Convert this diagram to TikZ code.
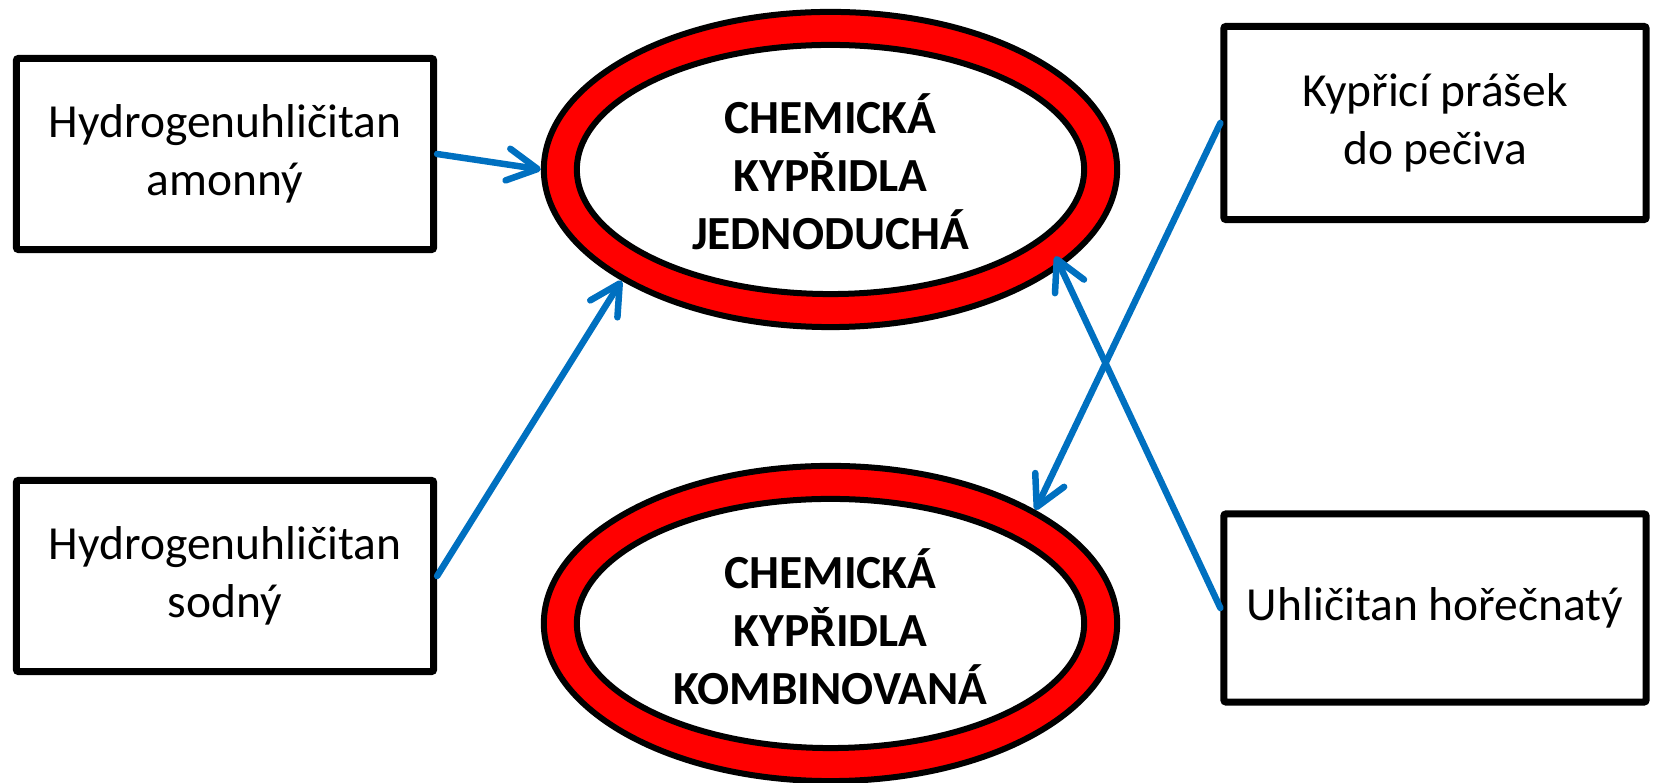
\documentclass[tikz,border=0pt]{standalone}
\usepackage{fontspec}
\setmainfont{Carlito}
\usetikzlibrary{shapes.geometric,arrows.meta}
\definecolor{arrowblue}{RGB}{0,112,192}
\begin{document}
\begin{tikzpicture}[x=0.01cm,y=-0.01cm,
  box/.style={draw=black, line width=0.07cm, rounded corners=0.6pt, fill=white, minimum width=4.17cm, minimum height=1.91cm, align=center, inner sep=0pt, font=\fontsize{13.5}{16.5}\selectfont},
  ring/.style={ellipse, draw=black, line width=0.06cm, fill=red, minimum width=5.73cm, minimum height=3.15cm, inner sep=0pt},
  hole/.style={ellipse, draw=black, line width=0.06cm, fill=white, minimum width=5.07cm, minimum height=2.49cm, inner sep=0pt},
  title/.style={align=center, font=\fontsize{13.5}{16.5}\selectfont\bfseries, inner sep=0pt},
  link/.style={draw=arrowblue, line width=0.065cm, line cap=round, -{Straight Barb[length=0.3cm,width=0.32cm,round]}}
]
\useasboundingbox (0,0) rectangle (1653,783);

\node[box] (b1) at (225,154) {Hydrogenuhličitan\\amonný};
\node[box] (b2) at (225,576) {Hydrogenuhličitan\\sodný};
\node[box, minimum width=4.22cm, minimum height=1.93cm] (b3) at (1435,123) {Kypřicí prášek\\do pečiva};
\node[box, minimum width=4.22cm, minimum height=1.88cm] (b4) at (1435,608) {Uhličitan hořečnatý};

\node[ring] (e1) at (830.5,169.5) {};
\node[hole] (h1) at (830.5,169.5) {};
\node[title] (t1) at (830.5,172) {CHEMICKÁ\\KYPŘIDLA\\JEDNODUCHÁ};

\node[ring] (e2) at (830.5,623.5) {};
\node[hole] (h2) at (830.5,623.5) {};
\node[title] (t2) at (830.5,627) {CHEMICKÁ\\KYPŘIDLA\\KOMBINOVANÁ};

\draw[link] (b1.east) -- (e1.180);
\draw[link] (b2.east) -- (e1.208.8);
\draw[link] (b3.west) -- (e2.29.2);
\draw[link, shorten >=-0.12cm] (b4.west) -- (e1.337);
\end{tikzpicture}
\end{document}
